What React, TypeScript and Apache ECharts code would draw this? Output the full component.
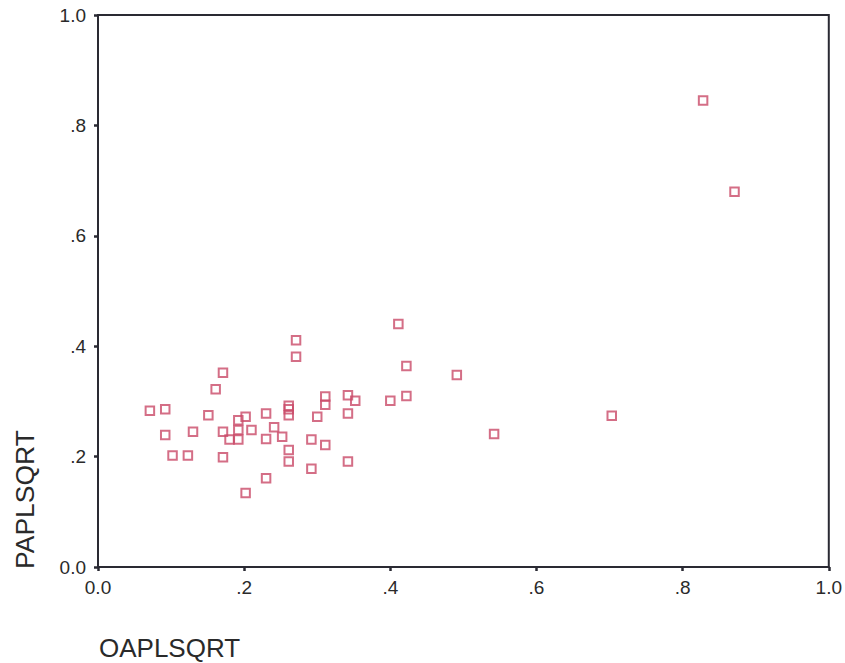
import React, { useEffect, useRef } from "react";
import * as echarts from "echarts";

const xTickLabels = ["0.0", ".2", ".4", ".6", ".8", "1.0"];
const yTickLabels = ["0.0", ".2", ".4", ".6", ".8", "1.0"];
const xName = "OAPLSQRT";
const yName = "PAPLSQRT";

const oaplsqrt = [
  0.828, 0.871, 0.703, 0.542, 0.491, 0.411, 0.422, 0.422, 0.4, 0.352,
  0.342, 0.342, 0.342, 0.311, 0.311, 0.311, 0.3, 0.292, 0.292, 0.271,
  0.271, 0.261, 0.261, 0.261, 0.261, 0.261, 0.252, 0.241, 0.23, 0.23,
  0.23, 0.21, 0.202, 0.202, 0.192, 0.192, 0.192, 0.18, 0.171, 0.171,
  0.171, 0.161, 0.151, 0.13, 0.123, 0.102, 0.092, 0.092, 0.071,
];
const paplsqrt = [
  0.845, 0.68, 0.274, 0.241, 0.348, 0.44, 0.364, 0.31, 0.301, 0.301,
  0.311, 0.278, 0.191, 0.309, 0.294, 0.221, 0.272, 0.231, 0.178, 0.411,
  0.381, 0.292, 0.286, 0.275, 0.212, 0.191, 0.236, 0.253, 0.278, 0.232,
  0.161, 0.248, 0.272, 0.134, 0.266, 0.248, 0.231, 0.231, 0.245, 0.199,
  0.352, 0.322, 0.275, 0.245, 0.202, 0.202, 0.239, 0.286, 0.283,
];

export default function App() {
  const ref = useRef<HTMLDivElement>(null);
  useEffect(() => {
    if (!ref.current) return;
    const chart = echarts.init(ref.current, undefined, { renderer: "svg" });
    const data = oaplsqrt.map((x, i) => [x, paplsqrt[i]]);
    const fontFamily = "Liberation Sans, Arial, sans-serif";
    const axisCommon = {
      type: "value" as const,
      min: 0,
      max: 1,
      interval: 0.2,
      splitLine: { show: false },
      axisLine: { show: true, lineStyle: { color: "#2a2a33", width: 2 } },
      axisTick: { show: true, inside: false, length: 4, lineStyle: { color: "#2a2a33", width: 2.5 } },
    };
    chart.setOption({
      animation: false,
      backgroundColor: "#ffffff",
      grid: {
        left: 98,
        top: 15,
        width: 732,
        height: 552,
        show: true,
        borderColor: "#2a2a33",
        borderWidth: 2,
        backgroundColor: "transparent",
      },
      xAxis: {
        ...axisCommon,
        axisLabel: {
          color: "#2a2a2a",
          fontSize: 19,
          fontFamily,
          margin: 11,
          formatter: (v: number) => xTickLabels[Math.round(v / 0.2)],
        },
      },
      yAxis: {
        ...axisCommon,
        axisLabel: {
          color: "#2a2a2a",
          fontSize: 19,
          fontFamily,
          margin: 12,
          formatter: (v: number) => yTickLabels[Math.round(v / 0.2)],
        },
      },
      graphic: [
        {
          type: "text",
          left: 99,
          top: 635,
          style: { text: xName, fontSize: 26, fontFamily, fill: "#2a2a2a" },
        },
        {
          type: "text",
          x: 11,
          y: 569,
          rotation: Math.PI / 2,
          style: {
            text: yName,
            fontSize: 26.5,
            fontFamily,
            fill: "#2a2a2a",
            align: "left",
            verticalAlign: "top",
          },
        },
      ],
      series: [
        {
          type: "scatter",
          data,
          symbol: "rect",
          symbolSize: 8.5,
          itemStyle: {
            color: "rgba(0,0,0,0)",
            borderColor: "#c94a68",
            borderWidth: 2,
          },
        },
      ],
    });
    return () => chart.dispose();
  }, []);
  return (
    <div
      ref={ref}
      style={{ position: "fixed", left: 0, top: 0, width: 845, height: 663 }}
    />
  );
}
